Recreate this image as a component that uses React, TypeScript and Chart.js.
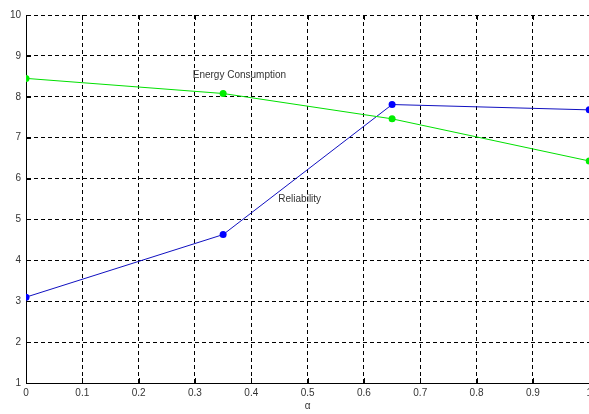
import React, { useEffect, useRef } from "react";
import { Chart, registerables } from "chart.js";

Chart.register(...registerables);

const alphaValues = [0, 0.35, 0.65, 1];
const energyConsumption = [8.45, 8.08, 7.46, 6.43];
const reliability = [3.1, 4.63, 7.81, 7.68];
const xTicks = [0, 0.1, 0.2, 0.3, 0.4, 0.5, 0.6, 0.7, 0.8, 0.9, 1];
const yTicks = [1, 2, 3, 4, 5, 6, 7, 8, 9, 10];
const annotations = [
  { text: "Energy Consumption", x: 0.296, y: 8.52 },
  { text: "Reliability", x: 0.448, y: 5.5 },
];

const FONT = "'Liberation Sans', Arial, sans-serif";

const overlayPlugin = {
  id: "overlay",
  afterDatasetsDraw(chart: any) {
    const { ctx, chartArea, scales } = chart;
    const xs = scales.x;
    const ys = scales.y;
    ctx.save();
    // inward tick marks
    ctx.strokeStyle = "#000";
    ctx.lineWidth = 1;
    ctx.setLineDash([]);
    ctx.beginPath();
    xTicks.forEach((v) => {
      const px = Math.round(xs.getPixelForValue(v)) + 0.5;
      ctx.moveTo(px, chartArea.bottom);
      ctx.lineTo(px, chartArea.bottom - 5);
      ctx.moveTo(px, chartArea.top);
      ctx.lineTo(px, chartArea.top + 5);
    });
    yTicks.forEach((v) => {
      const py = Math.round(ys.getPixelForValue(v)) + 0.5;
      ctx.moveTo(chartArea.left, py);
      ctx.lineTo(chartArea.left + 5, py);
    });
    ctx.stroke();
    // annotations
    ctx.fillStyle = "#333";
    ctx.font = `10px ${FONT}`;
    ctx.textAlign = "left";
    ctx.textBaseline = "middle";
    annotations.forEach((a) => {
      ctx.fillText(a.text, xs.getPixelForValue(a.x), ys.getPixelForValue(a.y));
    });
    ctx.restore();
  },
};

export default function App() {
  const ref = useRef<HTMLCanvasElement | null>(null);
  useEffect(() => {
    if (!ref.current) return;
    const chart = new Chart(ref.current, {
      type: "line",
      data: {
        datasets: [
          {
            label: "Energy Consumption",
            data: alphaValues.map((x, i) => ({ x, y: energyConsumption[i] })),
            borderColor: "#00e000",
            backgroundColor: "#00ee00",
            borderWidth: 1,
            pointRadius: 3.5,
            pointBorderWidth: 0,
            tension: 0,
          },
          {
            label: "Reliability",
            data: alphaValues.map((x, i) => ({ x, y: reliability[i] })),
            borderColor: "#1010c0",
            backgroundColor: "#0000ff",
            borderWidth: 1,
            pointRadius: 3.5,
            pointBorderWidth: 0,
            tension: 0,
          },
        ],
      },
      options: {
        animation: false,
        responsive: false,
        maintainAspectRatio: false,
        layout: { padding: { left: 0, right: 6, top: 15, bottom: 0 }, autoPadding: false },
        plugins: { legend: { display: false }, tooltip: { enabled: false } },
        scales: {
          x: {
            type: "linear",
            min: 0,
            max: 1,
            afterFit: (s: any) => {
              s.height = 31;
            },
            afterBuildTicks: (s: any) => {
              s.ticks = xTicks.map((v) => ({ value: v }));
            },
            ticks: {
              padding: 4,
              color: "#333",
              font: { family: FONT, size: 10 },
              maxRotation: 0,
              callback: (v: any) => String(v),
            },
            grid: {
              color: "#000",
              lineWidth: 1,
              drawTicks: false,
            },
            border: { display: true, color: "#000", width: 1, dash: [4, 3] },
            title: {
              display: true,
              text: "α",
              color: "#333",
              font: { family: FONT, size: 10 },
              padding: { top: 0, bottom: 2 },
            },
          },
          y: {
            type: "linear",
            min: 1,
            max: 10,
            afterFit: (s: any) => {
              s.width = 26;
            },
            afterBuildTicks: (s: any) => {
              s.ticks = yTicks.map((v) => ({ value: v }));
            },
            ticks: {
              padding: 5,
              color: "#333",
              font: { family: FONT, size: 10 },
            },
            grid: {
              color: "#000",
              lineWidth: 1,
              drawTicks: false,
            },
            border: { display: true, color: "#000", width: 1, dash: [4, 3] },
          },
        },
      },
      plugins: [overlayPlugin],
    } as any);
    return () => chart.destroy();
  }, []);
  return (
    <div
      style={{
        position: "fixed",
        left: 0,
        top: 0,
        width: 589,
        height: 414,
        overflow: "hidden",
        background: "#fff",
      }}
    >
      <canvas ref={ref} width={596} height={414} style={{ width: 596, height: 414, display: "block" }} />
    </div>
  );
}
